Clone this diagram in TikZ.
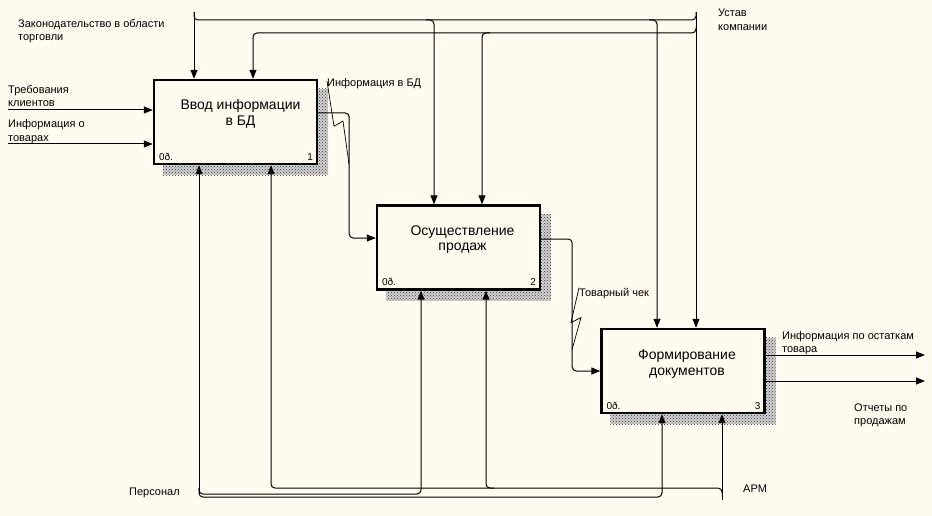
\documentclass[tikz,border=0pt]{standalone}
\usepackage{fontspec}
\setmainfont{Liberation Sans}
\usetikzlibrary{arrows.meta,patterns,backgrounds}

\definecolor{paper}{HTML}{FFFBF0}

\tikzset{
  func/.style={draw, line width=2.4pt, fill=paper, minimum width=163pt,
    minimum height=84pt, inner sep=0pt},
  fname/.style={font=\fontsize{14}{15.5}\selectfont, align=center, inner sep=0pt},
  corner/.style={font=\fontsize{10}{12}\selectfont, inner sep=0pt},
  lbl/.style={font=\fontsize{11}{13.5}\selectfont, align=left, inner sep=0pt,
    anchor=base west},
  link/.style={line width=1pt, rounded corners=4pt},
  arr/.style={link, -{Triangle[length=9pt,width=7pt]}},
  squig/.style={line width=0.7pt},
  shade/.style={fill=black!18, postaction={pattern=crosshatch dots, pattern color=black!80}}
}

\begin{document}
\begin{tikzpicture}[x=1pt, y=-1pt]
  \useasboundingbox (0,0) rectangle (932,516);

  % functions
  \node[func] (b1) at (235.5,122) {};
  \node[func] (b2) at (458.5,247.5) {};
  \node[func] (b3) at (683,371) {};

  \node[fname] (n1) at ([shift={(5,-8)}]b1.center) {Ввод информации\\в БД};
  \node[fname] (n2) at ([shift={(4,-8)}]b2.center) {Осуществление\\продаж};
  \node[fname] (n3) at ([shift={(4,-7)}]b3.center) {Формирование\\документов};

  \node[corner, anchor=base west] (c1) at ([shift={(6,-5)}]b1.south west) {0ð.};
  \node[corner, anchor=base east] (d1) at ([shift={(-5,-5)}]b1.south east) {1};
  \node[corner, anchor=base west] (c2) at ([shift={(6,-5)}]b2.south west) {0ð.};
  \node[corner, anchor=base east] (d2) at ([shift={(-5,-5)}]b2.south east) {2};
  \node[corner, anchor=base west] (c3) at ([shift={(6,-5)}]b3.south west) {0ð.};
  \node[corner, anchor=base east] (d3) at ([shift={(-5,-5)}]b3.south east) {3};

  % paper and shadows
  \begin{scope}[on background layer]
    \fill[paper] (0,0) rectangle (932,516);
    \fill[shade] ([shift={(10,10)}]b1.north west) rectangle ([shift={(10,10)}]b1.south east);
    \fill[shade] ([shift={(10,10)}]b2.north west) rectangle ([shift={(10,10)}]b2.south east);
    \fill[shade] ([shift={(10,10)}]b3.north west) rectangle ([shift={(10,10)}]b3.south east);
  \end{scope}

  % ends and bends
  \coordinate (zak) at (194,12);
  \coordinate (ust) at (696,12);
  \coordinate (busA) at (0,20);
  \coordinate (k1b) at (253,33);
  \coordinate (k2a) at (434,20);
  \coordinate (k2b) at (482,33);
  \coordinate (k3a) at (657,20);
  \coordinate (req) at (8,110);
  \coordinate (goods) at (8,144);
  \coordinate (rest) at (925,355);
  \coordinate (rep) at (925,381);
  \coordinate (staff) at (199,494);
  \coordinate (m2a) at (421,494);
  \coordinate (m3a) at (662,497);
  \coordinate (arm) at (722,500);
  \coordinate (m1b) at (271,488);
  \coordinate (m2b) at (486,488);

  % controls
  \draw[arr] (zak) -- (zak |- b1.north);
  \draw[arr] (ust) -- (ust |- b3.north);
  \draw[link] (zak) |- (ust |- busA) -- (ust);
  \draw[arr] ([xshift=-8pt]k2a) -| (k2a |- b2.north);
  \draw[arr] ([xshift=-8pt]k3a) -| (k3a |- b3.north);
  \draw[arr] ([yshift=-15pt]ust) |- (k1b) -- (k1b |- b1.north);
  \draw[arr] ([xshift=8pt]k2b) -| (k2b |- b2.north);

  % inputs and outputs
  \draw[arr] (req) -- (req -| b1.west);
  \draw[arr] (goods) -- (goods -| b1.west);
  \draw[arr] ([yshift=9pt]b1.east) -- ++(31,0) |- ([yshift=9.5pt]b2.west);
  \draw[arr] ([yshift=8.5pt]b2.east) -- ++(31,0) |- (b3.west);
  \draw[arr] (b3.east |- rest) -- (rest);
  \draw[arr] (b3.east |- rep) -- (rep);

  % mechanisms
  \draw[arr] (staff) -- (staff |- b1.south);
  \draw[arr] ([yshift=6pt]staff) |- (m2a) -- (m2a |- b2.south);
  \draw[arr] ([yshift=6pt]staff) |- (m3a) -- (m3a |- b3.south);
  \draw[arr] (arm) -- (arm |- b3.south);
  \draw[arr] ([yshift=6pt]arm) |- (m1b) -- (m1b |- b1.south);
  \draw[arr] ([xshift=8pt]m2b) -| (m2b |- b2.south);

  % labels (base = last line)
  \node[lbl] (lzak) at (18,41) {Законодательство в области\\торговли};
  \node[lbl] (lust) at (718,30.5) {Устав\\компании};
  \node[lbl] (lreq) at (8,107) {Требования\\клиентов};
  \node[lbl] (lgoods) at (8,141.5) {Информация о\\товарах};
  \node[lbl] (linfo) at (327,87) {Информация в БД};
  \node[lbl] (lcheck) at (579,296) {Товарный чек};
  \node[lbl] (lrest) at (782,352.5) {Информация по остаткам\\товара};
  \node[lbl] (lrep) at (854,424.5) {Отчеты по\\продажам};
  \node[lbl] (lstaff) at (129,495) {Персонал};
  \node[lbl] (larm) at (743,492) {АРМ};

  \draw[squig] ([yshift=3pt]linfo.west) -- ++(7,45) -- ++(9,-5) -- ++(6,43);
  \draw[squig] (lcheck.north west) -- ++(-8,35) -- ++(10,-5) -- ++(-9,32);
\end{tikzpicture}
\end{document}
